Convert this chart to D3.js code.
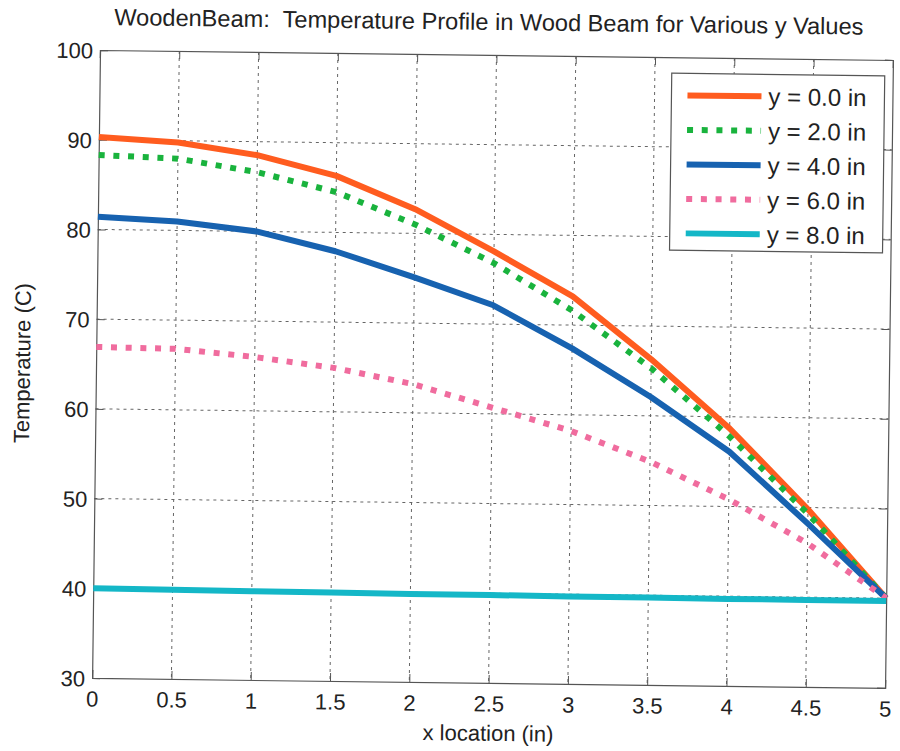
<!DOCTYPE html>
<html>
<head>
<meta charset="utf-8">
<script src="https://cdn.jsdelivr.net/npm/d3@7"></script>
<style>
  html, body { margin: 0; padding: 0; background: #fff; }
  text { font-family: "Liberation Sans", Arial, sans-serif; fill: #222; }
</style>
</head>
<body>
<svg id="chart" width="900" height="751"></svg>
<script>
// ---- data ----
const xValues = [0, 0.5, 1, 1.5, 2, 2.5, 3, 3.5, 4, 4.5, 5];
const tempY0 = [90.3, 89.8, 88.5, 86.3, 82.7, 78.1, 73.2, 66.3, 58.7, 49.8, 40.0];
const tempY2 = [88.3, 88.0, 86.6, 84.5, 81.0, 76.8, 71.6, 65.3, 57.8, 49.3, 40.0];
const tempY4 = [81.4, 81.0, 80.0, 77.9, 75.1, 72.1, 67.4, 62.1, 56.1, 48.2, 40.0];
const tempY6 = [66.9, 66.8, 66.0, 64.9, 63.2, 60.7, 58.2, 54.9, 50.8, 46.0, 40.0];
const tempY8 = [40.0, 39.95, 39.9, 39.85, 39.8, 39.8, 39.75, 39.75, 39.7, 39.7, 39.7];
const seriesLabels = ["y = 0.0 in", "y = 2.0 in", "y = 4.0 in", "y = 6.0 in", "y = 8.0 in"];
const xTicks = [0, 0.5, 1, 1.5, 2, 2.5, 3, 3.5, 4, 4.5, 5];
const yTicks = [30, 40, 50, 60, 70, 80, 90, 100];
const titleText = "WoodenBeam:  Temperature Profile in Wood Beam for Various y Values";
const xLabelText = "x location (in)";
const yLabelText = "Temperature (C)";

// ---- styles ----
const colors = ["#ff5c1f", "#19b33d", "#1762b0", "#f06c9e", "#14b7c7"];
const dashed = [false, true, false, true, false];
const seriesData = [tempY0, tempY2, tempY4, tempY6, tempY8];

const W = 793, H = 628;
const svg = d3.select("#chart");
const g = svg.append("g").attr("transform", "translate(100,50) rotate(0.72)");

const x = d3.scaleLinear().domain([0, 5]).range([0, W]);
const y = d3.scaleLinear().domain([30, 100]).range([H, 0]);

// grid
const grid = g.append("g");
grid.selectAll("line.vx").data(xTicks.slice(1, -1)).join("line")
  .attr("x1", d => x(d)).attr("x2", d => x(d)).attr("y1", 0).attr("y2", H)
  .attr("stroke", "#666").attr("stroke-width", 1).attr("stroke-dasharray", "3,4");
grid.selectAll("line.hy").data(yTicks.slice(1, -1)).join("line")
  .attr("y1", d => y(d)).attr("y2", d => y(d)).attr("x1", 0).attr("x2", W)
  .attr("stroke", "#666").attr("stroke-width", 1).attr("stroke-dasharray", "3,4");

// axes (inward ticks on all sides)
const tl = 8;
const axB = g.append("g").attr("transform", `translate(0,${H})`)
  .call(d3.axisBottom(x).tickValues(xTicks).tickSize(-tl).tickPadding(13).tickFormat(d3.format("")));
const axT = g.append("g")
  .call(d3.axisTop(x).tickValues(xTicks).tickSize(-tl).tickFormat(""));
const axL = g.append("g")
  .call(d3.axisLeft(y).tickValues(yTicks).tickSize(-tl).tickPadding(7).tickFormat(d3.format("")));
const axR = g.append("g").attr("transform", `translate(${W},0)`)
  .call(d3.axisRight(y).tickValues(yTicks).tickSize(-tl).tickFormat(""));
[axB, axT, axL, axR].forEach(a => {
  a.select(".domain").attr("stroke", "#555").attr("stroke-width", 1.2);
  a.selectAll(".tick line").attr("stroke", "#555");
  a.selectAll("text").attr("font-size", 22).attr("font-family", "'Liberation Sans', Arial, sans-serif").attr("fill", "#222");
});
axB.selectAll("text").attr("dy", "0.71em");
axL.selectAll("text").attr("dy", "0.36em");

// lines
const line = d3.line().x((d, i) => x(xValues[i])).y(d => y(d));
seriesData.forEach((s, k) => {
  g.append("path").datum(s)
    .attr("fill", "none")
    .attr("stroke", colors[k])
    .attr("stroke-width", 6)
    .attr("stroke-dasharray", dashed[k] ? "6,8.7" : null)
    .attr("stroke-linejoin", "round")
    .attr("d", line);
});

// legend
const lg = g.append("g").attr("transform", "translate(572,16)");
lg.append("rect").attr("width", 213).attr("height", 177)
  .attr("fill", "#fff").attr("stroke", "#555").attr("stroke-width", 1.2);
seriesLabels.forEach((lab, k) => {
  const cy = 22 + k * 34.5;
  lg.append("line").attr("x1", 16).attr("x2", 90).attr("y1", cy).attr("y2", cy)
    .attr("stroke", colors[k]).attr("stroke-width", 6)
    .attr("stroke-dasharray", dashed[k] ? "6,8.7" : null);
  lg.append("text").attr("x", 97).attr("y", cy).attr("dy", "0.36em")
    .attr("font-size", 24).text(lab);
});

// title and axis labels
g.append("text").attr("x", W / 2 - 8).attr("y", -25).attr("text-anchor", "middle")
  .attr("font-size", 23.6).style("white-space", "pre").text(titleText);
g.append("text").attr("x", W / 2).attr("y", H + 50).attr("dy", "0.36em")
  .attr("text-anchor", "middle").attr("font-size", 22).text(xLabelText);
g.append("text").attr("transform", `translate(-74,${H / 2}) rotate(-90)`)
  .attr("dy", "0.36em").attr("text-anchor", "middle").attr("font-size", 22).text(yLabelText);
</script>
</body>
</html>
